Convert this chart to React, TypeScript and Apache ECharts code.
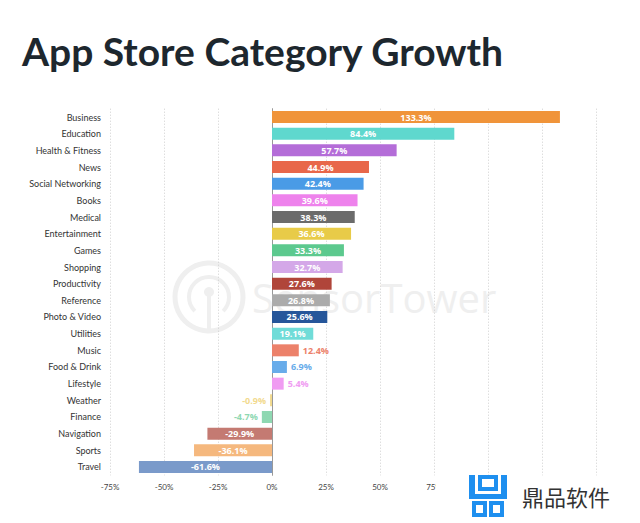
import React, { useEffect, useRef } from "react";
import * as echarts from "echarts";

const categories = [
  "Business", "Education", "Health & Fitness", "News", "Social Networking", "Books",
  "Medical", "Entertainment", "Games", "Shopping", "Productivity", "Reference",
  "Photo & Video", "Utilities", "Music", "Food & Drink", "Lifestyle", "Weather",
  "Finance", "Navigation", "Sports", "Travel",
];
const growthValues = [
  133.3, 84.4, 57.7, 44.9, 42.4, 39.6, 38.3, 36.6, 33.3, 32.7, 27.6, 26.8,
  25.6, 19.1, 12.4, 6.9, 5.4, -0.9, -4.7, -29.9, -36.1, -61.6,
];
const barColors = [
  "#F0943A", "#5FD8CE", "#B46DD8", "#E8674A", "#4A9BE6", "#EE82EC",
  "#6B6B6B", "#E8CB48", "#5CC98E", "#D4A8E8", "#B0453A", "#ABABAB",
  "#26569A", "#70DCD8", "#EC816A", "#68ACEA", "#F09CF2", "#F2DA8E",
  "#8FD8B2", "#C47A72", "#F5B87E", "#7A9ACA",
];
const axisTicks = [-75, -50, -25, 0, 25, 50, 75, 100, 125, 150];

const LOGO_BLUE = "#1E8FEF";

export default function App() {
  const ref = useRef<HTMLDivElement>(null);
  useEffect(() => {
    if (!ref.current) return;
    const chart = echarts.init(ref.current, null, { renderer: "svg" });
    const data = growthValues.map((v, i) => {
      const small = Math.abs(v) < 15;
      return {
        value: v,
        itemStyle: { color: barColors[i] },
        label: {
          show: true,
          position: small ? (v >= 0 ? "right" : "left") : "inside",
          color: small ? barColors[i] : "#ffffff",
          distance: 4,
        },
      };
    });
    const wm = "#efefef";
    chart.setOption({
      animation: false,
      backgroundColor: "#ffffff",
      grid: { left: 110, right: 44, top: 108.7, bottom: 47.7, containLabel: false },
      xAxis: {
        type: "value",
        min: axisTicks[0],
        max: axisTicks[axisTicks.length - 1],
        interval: 25,
        axisLine: { show: false },
        axisTick: { show: false },
        splitLine: { show: true, lineStyle: { type: [1, 2], color: "#cfcfcf", width: 1 } },
        axisLabel: {
          formatter: "{value}%",
          fontSize: 8,
          color: "#444",
          fontFamily: "Lato",
          margin: 8,
        },
      },
      yAxis: {
        type: "category",
        data: categories,
        inverse: true,
        axisLine: { show: true, lineStyle: { color: "#999", width: 1 } },
        axisTick: { show: false },
        axisLabel: {
          fontSize: 9,
          color: "#333",
          fontFamily: "Lato",
          margin: 9,
        },
      },
      series: [
        {
          type: "bar",
          barWidth: 12,
          data,
          z: 3,
          label: {
            show: true,
            formatter: (p: any) => `${p.value}%`,
            fontSize: 9,
            fontWeight: "bold",
            fontFamily: "Open Sans",
          },
        },
      ],
      graphic: [
        {
          type: "text",
          left: 22,
          top: 31,
          style: {
            text: "App Store Category Growth",
            font: "bold 39px Lato",
            fill: "#1d272e",
          },
        },
        { type: "circle", z: -1, shape: { cx: 209, cy: 297, r: 34 }, style: { fill: "none", stroke: wm, lineWidth: 5 } },
        { type: "arc", z: -1, shape: { cx: 209, cy: 297, r: 20, startAngle: Math.PI * 0.75, endAngle: Math.PI * 2.25 }, style: { fill: "none", stroke: wm, lineWidth: 4 } },
        { type: "circle", z: -1, shape: { cx: 209, cy: 292, r: 5 }, style: { fill: wm } },
        { type: "line", z: -1, shape: { x1: 209, y1: 295, x2: 209, y2: 330 }, style: { stroke: wm, lineWidth: 4 } },
        { type: "text", z: -1, x: 252, y: 277, style: { text: "SensorTower", font: "40px 'Open Sans'", fill: wm } },
        { type: "rect", z: 100, shape: { x: 436, y: 478, width: 204, height: 45 }, style: { fill: "#ffffff" } },
        { type: "rect", z: 101, shape: { x: 469, y: 475, width: 6, height: 23 }, style: { fill: LOGO_BLUE } },
        { type: "rect", z: 101, shape: { x: 501, y: 475, width: 6, height: 23 }, style: { fill: LOGO_BLUE } },
        { type: "rect", z: 101, shape: { x: 480, y: 477, width: 16, height: 12 }, style: { fill: "none", stroke: LOGO_BLUE, lineWidth: 4 } },
        { type: "rect", z: 101, shape: { x: 469, y: 494, width: 38, height: 5 }, style: { fill: LOGO_BLUE } },
        { type: "rect", z: 101, shape: { x: 474, y: 503, width: 11, height: 12 }, style: { fill: "none", stroke: LOGO_BLUE, lineWidth: 4 } },
        { type: "rect", z: 101, shape: { x: 491, y: 503, width: 11, height: 12 }, style: { fill: "none", stroke: LOGO_BLUE, lineWidth: 4 } },
        { type: "text", z: 101, x: 522, y: 485, style: { text: "鼎品软件", font: "22px 'Noto Sans CJK SC'", fill: "#333" } },
      ],
    });
    return () => chart.dispose();
  }, []);
  return <div ref={ref} style={{ width: 640, height: 523, position: "absolute", left: 0, top: 0 }} />;
}
